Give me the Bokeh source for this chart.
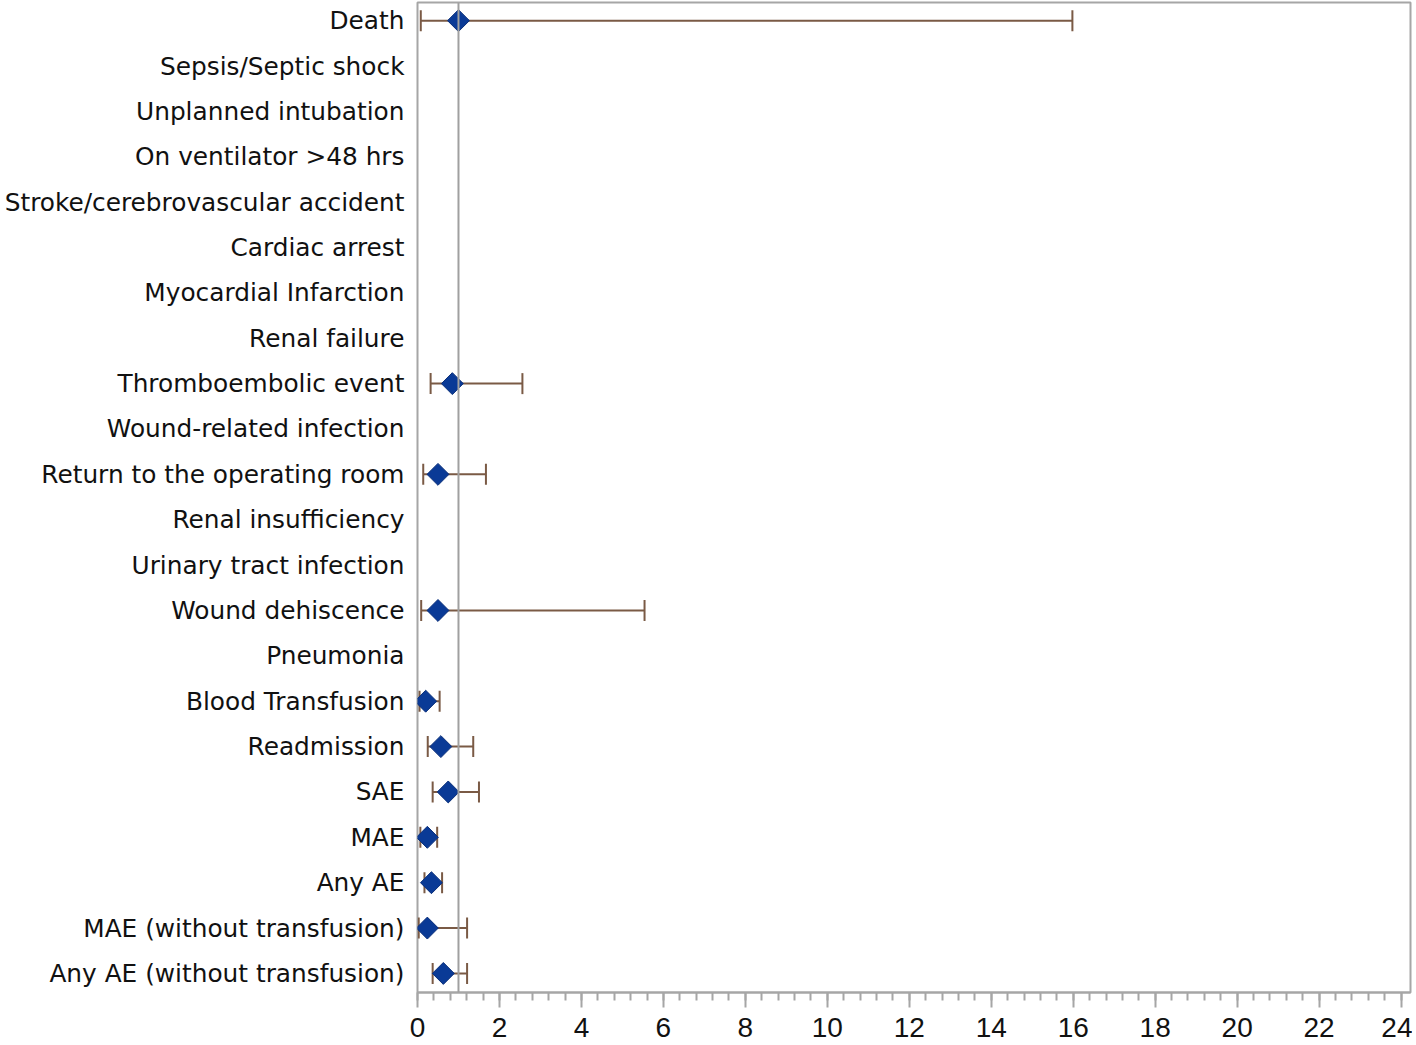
import numpy as np
from bokeh.plotting import figure
from bokeh.models import Range1d, FixedTicker, ColumnDataSource, Whisker, TeeHead, Span
from bokeh.embed import file_html
from bokeh.resources import INLINE

outcomes = [
    "Death", "Sepsis/Septic shock", "Unplanned intubation", "On ventilator >48 hrs",
    "Stroke/cerebrovascular accident", "Cardiac arrest", "Myocardial Infarction",
    "Renal failure", "Thromboembolic event", "Wound-related infection",
    "Return to the operating room", "Renal insufficiency", "Urinary tract infection",
    "Wound dehiscence", "Pneumonia", "Blood Transfusion", "Readmission", "SAE", "MAE",
    "Any AE", "MAE (without transfusion)", "Any AE (without transfusion)",
]
estimate = [1.0, None, None, None, None, None, None, None, 0.85, None, 0.5, None, None,
            0.5, None, 0.2, 0.57, 0.75, 0.24, 0.34, 0.24, 0.63]
lower = [0.08, None, None, None, None, None, None, None, 0.32, None, 0.14, None, None,
         0.09, None, 0.05, 0.25, 0.37, 0.07, 0.17, 0.03, 0.37]
upper = [15.98, None, None, None, None, None, None, None, 2.56, None, 1.67, None, None,
         5.54, None, 0.54, 1.36, 1.5, 0.48, 0.6, 1.21, 1.21]
x_ticks = list(range(0, 25, 2))
x_minor = [round(i * 0.4, 1) for i in range(0, 61)]

idx = [i for i, e in enumerate(estimate) if e is not None]
src = ColumnDataSource(dict(
    y=idx,
    est=[estimate[i] for i in idx],
    lo=[lower[i] for i in idx],
    hi=[upper[i] for i in idx],
))

p = figure(width=1412, height=1043, output_backend="svg", toolbar_location=None,
           x_range=Range1d(0, 24.23), y_range=Range1d(len(outcomes) - 1 + 0.42, -0.4),
           min_border_top=2, min_border_right=2, min_border_bottom=51, min_border_left=417)
p.grid.visible = False
p.outline_line_color = "#a6a6a6"
p.outline_line_width = 2
p.background_fill_color = "white"
p.border_fill_color = "white"

ref = Span(location=1, dimension="height", line_color="#a0a0a0", line_width=2)
p.add_layout(ref)

err_color = "#7a5a45"
w = Whisker(source=src, base="y", lower="lo", upper="hi", dimension="width",
            line_color=err_color, line_width=2,
            lower_head=TeeHead(size=21, line_color=err_color, line_width=2),
            upper_head=TeeHead(size=21, line_color=err_color, line_width=2))
p.add_layout(w)

p.scatter(x="est", y="y", source=src, marker="square", angle=np.pi / 4, size=15.5,
          fill_color="#0a3a96", line_color="#0a2f7a", line_width=1)

# y axis
p.yaxis.ticker = FixedTicker(ticks=list(range(len(outcomes))))
p.yaxis.major_label_overrides = {i: t for i, t in enumerate(outcomes)}
p.yaxis.major_tick_line_color = None
p.yaxis.minor_tick_line_color = None
p.yaxis.major_tick_out = 0
p.yaxis.major_tick_in = 0
p.yaxis.axis_line_color = None
p.yaxis.major_label_standoff = 13
p.yaxis.major_label_text_font = "DejaVu Sans"
p.yaxis.major_label_text_font_size = "24.8px"
p.yaxis.major_label_text_color = "#111111"

# x axis
p.xaxis.ticker = FixedTicker(ticks=x_ticks, minor_ticks=x_minor)
p.xaxis.axis_line_color = "#a6a6a6"
p.xaxis.axis_line_width = 2
p.xaxis.major_tick_line_color = "#a6a6a6"
p.xaxis.minor_tick_line_color = "#a6a6a6"
p.xaxis.major_tick_line_width = 2
p.xaxis.minor_tick_line_width = 2
p.xaxis.major_tick_in = 0
p.xaxis.major_tick_out = 15
p.xaxis.minor_tick_in = 0
p.xaxis.minor_tick_out = 8
p.xaxis.major_label_standoff = 10
p.xaxis.major_label_text_font = "Liberation Sans"
p.xaxis.major_label_text_font_size = "28px"
p.xaxis.major_label_text_color = "#111111"

open("out.html", "w").write(file_html(p, INLINE))
